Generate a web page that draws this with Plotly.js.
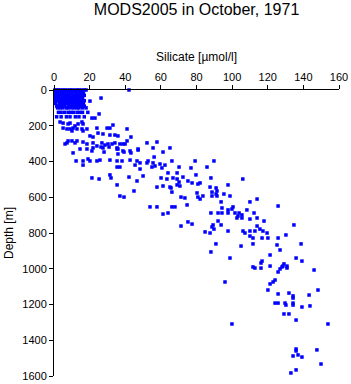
<!DOCTYPE html>
<html>
<head>
<meta charset="utf-8">
<script src="https://cdn.plot.ly/plotly-3.0.1.min.js"></script>
<style>html,body{margin:0;padding:0;background:#fff;}#chart{width:351px;height:384px;}</style>
</head>
<body>
<div id="chart"></div>
<script>
// Silicate [µmol/l] and depth [m]
const silicate = [
  // near-surface casts
  0.5,1.5,2.5,3.5,5,6,7.5,9,10,11.5,13,14,15.5,17,18,
  1,2,3.5,5,6.5,8,9.5,11,12.5,14,16,
  0.5,2,4,5.5,7,8.5,10,12,13.5,15,16.5,
  1,2.5,4,6,7.5,9,11,12.5,14,15.5,17,
  1,2.5,4,5.5,7,8.5,10,11.5,13,14.5,16,
  0.5,2,3.5,5,6.5,8,9.5,11,12.5,14,16,
  0.5,2,3.5,5,6.5,8,9.5,11,12.5,14,15.5,17,
  1,3,4.5,6,7.5,9,10.5,12,13.5,15,16.5,
  1.5,3,4.5,6,8,9.5,11,12.5,14,15.5,17,
  2,3.5,5,7,8,10,11.5,13,14,16,18,
  2.5,4,6,8,9.5,11,13,14.5,16,19,
  1.5,4,7,9,12,14,17,
  // scattered
  42.1,26.4,20.2,25.3,21.3,23,33.1,29.8,31.4,24.1,41,24.7,27.5,31.4,34.2,35.9,20.2,21.9,
  12.9,15.7,16.3,18.5,5.1,7.3,9,10.1,10.7,11.8,3.4,5.1,7.9,9,13.5,15.7,16.3,
  43.2,41,10.1,11.8,12.9,16.3,18.5,21.9,24.1,26.9,27.5,28.6,30.3,32.6,34.2,35.4,35.9,
  6.2,7.3,7.9,37,38.7,39.9,52.2,57.8,10.7,14.6,18.5,21.3,21.9,30.9,26.4,35.4,38.7,42.7,
  47.2,55.6,61.2,65.1,28.1,35.9,39.3,43.2,47.2,12.4,16.3,19.1,20.2,24.1,25.8,31.4,35.4,
  38.2,42.7,46.6,48.3,45.5,52.8,52.2,55.6,56.7,59.5,62.3,66.2,60.6,56.2,79.2,16.3,35.4,37,
  48.3,55,64,69.1,70.2,21.3,25.3,31.4,32,42.1,46.6,50,60.1,63.4,66.8,69.1,70.2,72.4,75.2,
  77.5,35.4,57.8,61.2,65.1,65.7,80.8,44.9,37,39.3,71.3,73.5,80.8,53.9,57.8,66.2,67.9,74.7,
  61.2,64,75.2,77.5,71.3,69.1,70.7,66.2,76.9,79.7,82,80.3,83.6,82,
  89.8,85.9,97.7,106,88.1,87.6,91,91.5,88.7,91,91.5,95.4,88.7,98.8,93.8,110,114,94.3,100.5,
  99.9,97.7,97.7,108.3,88.1,92.1,94.3,101.6,103.9,103.3,105.5,102.7,105.5,110,112.3,114,
  117.9,92.1,93.8,88.7,89.8,89.3,97.7,106.1,107.2,110,112.8,114,115.6,117.3,119.6,110,
  111.7,116.8,120.1,84.8,87.6,
  125.8,130.2,134.7,125.8,125.2,138.7,111.7,105,90.9,88.1,126.9,98.8,121.3,135.9,139.2,
  116.8,116.2,111.7,112.8,116.2,121.3,129.1,128.5,128,130.8,130.8,126.9,125.8,146,124.1,
  123,121.3,96,120.1,148.2,125.8,131.9,134.2,134.2,143.2,124.1,125.8,129.7,130.2,134.2,
  134.2,139.2,143.7,129.1,131.9,135.9,99.9,153.8,135.9,135.9,147.6,134.2,137,139.2,149.9,
  135.9,133
];
const depth = [
  0,0,0,0,0,0,0,0,0,0,0,0,0,0,0,
  10,10,10,10,10,10,10,10,10,10,10,
  20,20,20,20,20,20,20,20,20,20,20,
  30,30,30,30,30,30,30,30,30,30,30,
  40,40,40,40,40,40,40,40,40,40,40,
  50,50,50,50,50,50,50,50,50,50,50,
  60,60,60,60,60,60,60,60,60,60,60,60,
  75,75,75,75,75,75,75,75,75,75,75,
  90,90,90,90,90,90,90,90,90,90,90,
  100,100,100,100,100,100,100,100,100,100,100,
  125,125,125,125,125,125,125,125,125,125,
  150,150,150,150,150,150,150,
  0,45,62,134,157,157,196,213,213,213,218,241,246,252,252,257,257,263,
  218,218,229,218,213,218,218,229,213,201,179,185,190,185,190,179,190,
  263,285,285,296,285,291,302,296,313,296,324,308,302,302,296,324,330,
  302,296,285,302,302,302,296,291,352,330,330,341,324,319,319,330,341,341,
  330,324,347,324,347,358,347,352,336,397,397,386,397,397,392,392,397,
  397,392,397,408,420,397,408,408,425,414,420,397,436,375,397,420,431,431,
  442,431,464,464,431,492,498,475,492,487,509,481,492,498,492,498,515,487,509,
  520,531,543,537,543,548,526,565,593,599,599,604,599,654,654,654,654,643,
  694,688,738,750,761,531,537,571,436,475,520,576,593,610,
  397,431,531,498,492,543,548,565,571,582,593,582,593,593,626,626,610,660,654,
  666,671,688,671,688,688,688,688,688,705,699,716,716,722,688,716,
  733,733,755,766,778,755,789,789,800,789,789,761,778,789,800,817,
  828,828,828,794,800,
  649,811,755,828,867,861,861,873,861,906,895,940,923,940,957,
  957,968,990,996,996,985,973,985,990,985,996,1001,1018,1007,1063,
  1074,1085,1074,1119,1119,1141,1136,1152,1164,1147,1192,1192,1192,1203,1192,
  1203,1214,1208,1253,1253,1287,1309,1309,1449,1460,1454,1488,1482,1494,1533,
  1566,1583
];
const xTicks = [0,20,40,60,80,100,120,140,160];
const yTicks = [0,200,400,600,800,1000,1200,1400,1600];

const font = {family: '"Liberation Sans", Arial, Helvetica, sans-serif', color: '#000'};

Plotly.newPlot('chart', [{
  type: 'scatter',
  mode: 'markers',
  x: silicate,
  y: depth,
  cliponaxis: false,
  marker: {symbol: 'square', size: 3.5, color: '#0000ff', line: {width: 0}},
  hoverinfo: 'skip'
}], {
  width: 351, height: 384,
  margin: {l: 54, r: 12, t: 90, b: 8},
  paper_bgcolor: '#fff', plot_bgcolor: '#fff',
  showlegend: false,
  font: Object.assign({size: 11}, font),
  title: {text: 'MODS2005 in October, 1971', font: Object.assign({size: 16}, font),
          x: 0.56, xanchor: 'center', y: 0.975, yanchor: 'middle'},
  xaxis: {
    side: 'top', range: [0, 160], tickvals: xTicks, ticktext: xTicks.map(String),
    showline: true, linecolor: '#000', linewidth: 1, ticks: 'outside', ticklen: 4,
    tickcolor: '#000', showgrid: false, zeroline: false, mirror: false,
    tickfont: Object.assign({size: 11}, font),
    title: {text: 'Silicate [µmol/l]', font: Object.assign({size: 12}, font), standoff: 6}
  },
  yaxis: {
    range: [1600, 0], tickvals: yTicks, ticktext: yTicks.map(String),
    showline: true, linecolor: '#000', linewidth: 1, ticks: 'outside', ticklen: 4,
    tickcolor: '#000', showgrid: false, zeroline: false, mirror: false,
    tickfont: Object.assign({size: 11}, font),
    title: {text: 'Depth [m]', font: Object.assign({size: 12}, font), standoff: 6}
  }
}, {displayModeBar: false, staticPlot: true});
</script>
</body>
</html>
